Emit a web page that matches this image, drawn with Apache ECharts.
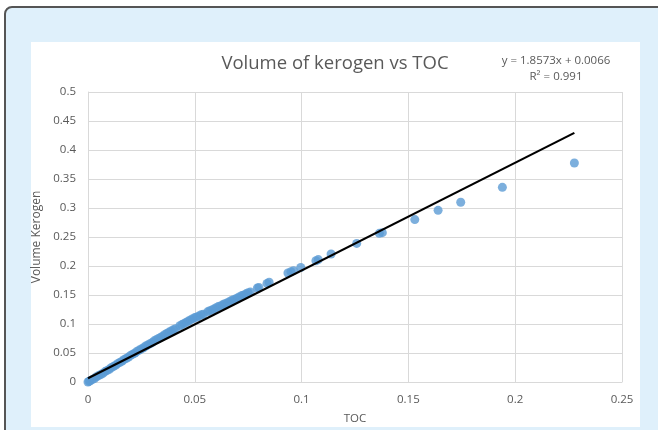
<!DOCTYPE html>
<html>
<head>
<meta charset="utf-8">
<script src="https://cdn.jsdelivr.net/npm/echarts@6/dist/echarts.min.js"></script>
<style>
  html, body { margin: 0; padding: 0; background: #ffffff; }
  body { width: 658px; height: 430px; position: relative; overflow: hidden; }
  .frame {
    position: absolute; left: 4px; top: 6px; width: 700px; height: 500px;
    border: 2px solid #555555; border-radius: 8px; background: #dff0fb;
  }
  .panel { position: absolute; left: 31px; top: 42px; width: 609px; height: 385px; background: #ffffff; }
  #chart { position: absolute; left: 0; top: 0; width: 658px; height: 430px; }
</style>
</head>
<body>
<div class="frame"></div>
<div class="panel"></div>
<div id="chart"></div>
<script>
// TOC vs volume of kerogen
const tocValues = [
  0, 0.0005, 0.001, 0.002, 0.003, 0.004, 0.005, 0.006, 0.007, 0.008, 0.009,
  0.010, 0.011, 0.012, 0.013, 0.014, 0.015, 0.016, 0.017, 0.018, 0.019,
  0.020, 0.021, 0.022, 0.023, 0.024, 0.025, 0.026, 0.027, 0.028, 0.029,
  0.030, 0.031, 0.032, 0.033, 0.034, 0.035, 0.036, 0.037, 0.038, 0.039,
  0.040, 0.041,
  0.043, 0.044, 0.045, 0.046, 0.047, 0.048, 0.049, 0.050, 0.051, 0.052, 0.053, 0.054,
  0.056, 0.057, 0.058, 0.059, 0.060, 0.061, 0.062, 0.063, 0.064, 0.065, 0.066,
  0.067, 0.068, 0.069, 0.070, 0.071, 0.072, 0.073, 0.074, 0.075, 0.076,
  0.0793, 0.0800, 0.0838, 0.0848, 0.0936, 0.0950, 0.0962, 0.0996,
  0.1067, 0.1078, 0.1138, 0.1258, 0.1364, 0.1378, 0.153, 0.1639, 0.1745, 0.194, 0.2277
];
const kerogenValues = [
  0, 0.001, 0.002, 0.004, 0.006, 0.009, 0.011, 0.013, 0.015, 0.018, 0.020,
  0.022, 0.025, 0.027, 0.029, 0.032, 0.034, 0.036, 0.039, 0.041, 0.043,
  0.046, 0.048, 0.050, 0.053, 0.055, 0.057, 0.059, 0.062, 0.064, 0.066,
  0.068, 0.071, 0.073, 0.075, 0.077, 0.079, 0.082, 0.084, 0.086, 0.088,
  0.090, 0.092,
  0.097, 0.099, 0.101, 0.103, 0.105, 0.107, 0.109, 0.111, 0.112, 0.114, 0.116, 0.117,
  0.121, 0.123, 0.124, 0.126, 0.128, 0.130, 0.131, 0.133, 0.135, 0.136, 0.138,
  0.140, 0.142, 0.143, 0.145, 0.147, 0.149, 0.150, 0.152, 0.154, 0.155,
  0.162, 0.163, 0.170, 0.172, 0.188, 0.190, 0.192, 0.1975,
  0.209, 0.211, 0.2207, 0.239, 0.2563, 0.2575, 0.280, 0.296, 0.310, 0.3356, 0.3776
];
// linear trend line end points (y = 1.8573x + 0.0066)
const trendX = [0, 0.2277];
const trendY = [0.0066, 0.4295];

let charts = echarts.init(document.getElementById('chart'));
let labelColor = '#595959';
let gridColor = '#d9d9d9';
let option = {
  animation: false,
  textStyle: { fontFamily: 'Open Sans' },
  title: [
    {
      text: 'Volume of kerogen vs TOC',
      left: 330, top: 49, textAlign: 'center',
      textStyle: { fontSize: 18.5, fontWeight: 'normal', color: labelColor, fontFamily: 'Open Sans' }
    },
    {
      text: 'y = 1.8573x + 0.0066\nR² = 0.991',
      left: 551, top: 48, textAlign: 'center',
      textStyle: { fontSize: 11.5, fontWeight: 'normal', color: labelColor, lineHeight: 16, fontFamily: 'Open Sans' }
    }
  ],
  grid: { left: 88, right: 36, top: 92, bottom: 47 },
  xAxis: {
    type: 'value', min: 0, max: 0.25, interval: 0.05,
    name: 'TOC', nameLocation: 'middle', nameGap: 31,
    nameTextStyle: { color: labelColor, fontSize: 11.5 },
    axisLine: { show: true, lineStyle: { color: gridColor } },
    axisTick: { show: false },
    axisLabel: { color: labelColor, fontSize: 11.5, margin: 12 },
    splitLine: { show: true, lineStyle: { color: gridColor } }
  },
  yAxis: {
    type: 'value', min: 0, max: 0.5, interval: 0.05,
    name: 'Volume Kerogen', nameLocation: 'middle', nameGap: 44,
    nameTextStyle: { color: labelColor, fontSize: 12 },
    axisLine: { show: true, lineStyle: { color: gridColor } },
    axisTick: { show: false },
    axisLabel: { color: labelColor, fontSize: 11.5, margin: 12 },
    splitLine: { show: true, lineStyle: { color: gridColor } }
  },
  series: [
    {
      type: 'scatter',
      data: tocValues.map((x, i) => [x, kerogenValues[i]]),
      symbolSize: 9,
      itemStyle: { color: '#5b9bd5' }
    },
    {
      type: 'line',
      data: trendX.map((x, i) => [x, trendY[i]]),
      showSymbol: false,
      lineStyle: { color: '#000000', width: 2.2 },
      z: 5
    }
  ]
};
charts.setOption(option);
</script>
</body>
</html>
